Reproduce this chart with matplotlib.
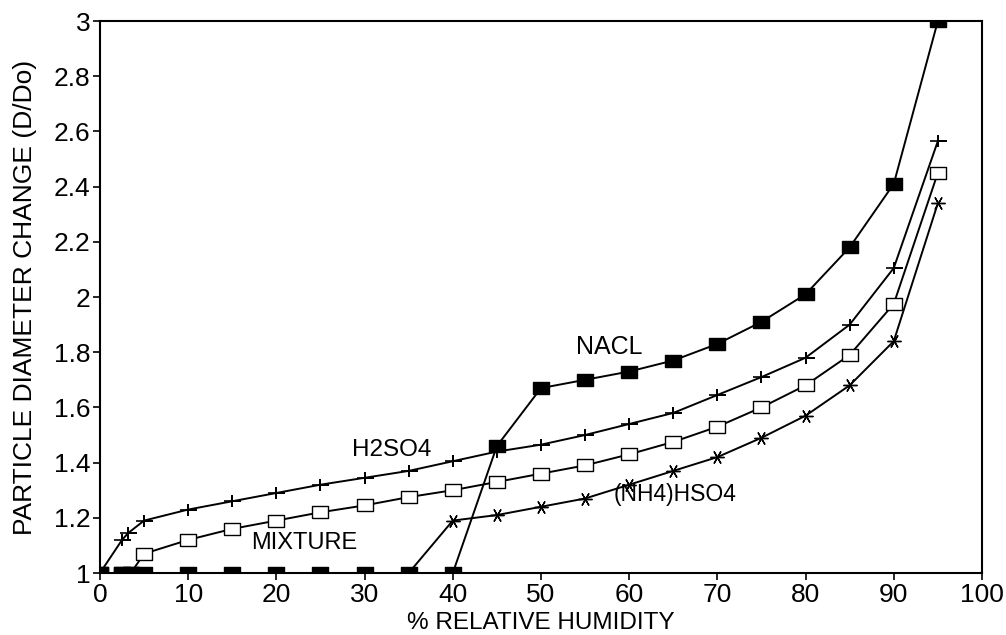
import numpy as np
from matplotlib import pyplot as plt

plt.rcParams['font.family'] = ['Liberation Sans', 'DejaVu Sans']

# relative humidity [%] and diameter ratio D/Do for each aerosol
rh_nacl = [0, 2.5, 3.5, 5, 10, 15, 20, 25, 30, 35, 40, 45, 50, 55, 60, 65, 70, 75, 80, 85, 90, 95]
d_nacl = [1.0, 1.0, 1.0, 1.0, 1.0, 1.0, 1.0, 1.0, 1.0, 1.0, 1.0, 1.46, 1.67, 1.70, 1.73, 1.77,
          1.83, 1.91, 2.01, 2.18, 2.41, 3.0]

rh_h2so4 = [0, 2.5, 3.2, 5, 10, 15, 20, 25, 30, 35, 40, 45, 50, 55, 60, 65, 70, 75, 80, 85, 90, 95]
d_h2so4 = [1.0, 1.12, 1.145, 1.19, 1.23, 1.26, 1.29, 1.32, 1.345, 1.37, 1.405, 1.44, 1.465, 1.50,
           1.54, 1.58, 1.645, 1.71, 1.78, 1.90, 2.105, 2.565]

rh_mix = [0, 2.5, 3.5, 5, 10, 15, 20, 25, 30, 35, 40, 45, 50, 55, 60, 65, 70, 75, 80, 85, 90, 95]
d_mix = [1.0, 1.0, 1.0, 1.07, 1.12, 1.16, 1.19, 1.22, 1.245, 1.275, 1.30, 1.33, 1.36, 1.39,
         1.43, 1.475, 1.53, 1.60, 1.68, 1.79, 1.975, 2.45]

rh_nh4 = [0, 5, 10, 15, 20, 25, 30, 35, 40, 45, 50, 55, 60, 65, 70, 75, 80, 85, 90, 95]
d_nh4 = [1.0, 1.0, 1.0, 1.0, 1.0, 1.0, 1.0, 1.0, 1.19, 1.21, 1.24, 1.27, 1.32, 1.37, 1.42,
         1.49, 1.57, 1.68, 1.84, 2.34]

# wide rectangular marker like the plotter squares
rect = [(-1.4, -1), (1.4, -1), (1.4, 1), (-1.4, 1), (-1.4, -1)]
plus = [(-1.4, 0), (1.4, 0), (0, 0), (0, 1), (0, -1), (0, 0)]

fig = plt.figure(figsize=(10.06, 6.35), dpi=100)
ax = fig.add_axes([0.0994, 0.0976, 0.8767, 0.8693])

ax.plot(rh_nh4, d_nh4, color='black', lw=1.4, marker=(6, 2, 90), ms=10, mew=1.0)
ax.plot(rh_mix, d_mix, color='black', lw=1.4, marker=rect, ms=12, mfc='white', mec='black', mew=1.0)
ax.plot(rh_h2so4, d_h2so4, color='black', lw=1.4, marker=plus, ms=11, mew=1.2, fillstyle='none')
ax.plot(rh_nacl, d_nacl, color='black', lw=1.4, marker=rect, ms=11.5, mfc='black', mec='black')

ax.text(57.7, 1.82, 'NACL', fontsize=18, ha='center', va='center')
ax.text(33.1, 1.445, 'H2SO4', fontsize=17.5, ha='center', va='center')
ax.text(23.2, 1.11, 'MIXTURE', fontsize=17, ha='center', va='center')
ax.text(65.2, 1.285, '(NH4)HSO4', fontsize=16.5, ha='center', va='center')

ax.set_xlim(0, 100)
ax.set_ylim(1, 3)
ax.set_xticks(np.arange(0, 101, 10))
yt = np.arange(1, 3.01, 0.2)
ax.set_yticks(yt)
ax.set_yticklabels(['%g' % round(v, 1) for v in yt])
ax.tick_params(direction='out', length=5, width=1.2, labelsize=19, pad=2)
for s in ax.spines.values():
    s.set_linewidth(1.5)

ax.set_xlabel('% RELATIVE HUMIDITY', fontsize=17.5, labelpad=4)
ax.set_ylabel('PARTICLE DIAMETER CHANGE (D/Do)', fontsize=19, labelpad=12)

fig.savefig('out.png', dpi=100)
